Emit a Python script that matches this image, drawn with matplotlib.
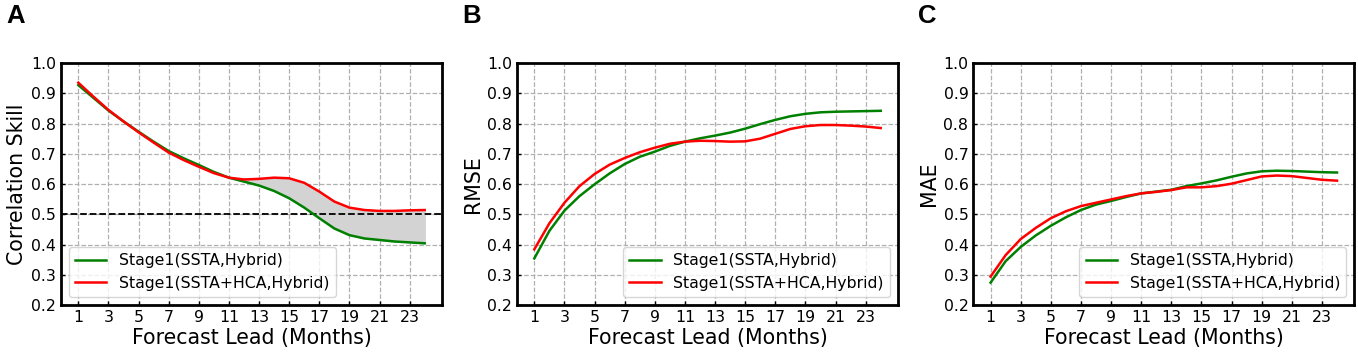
import numpy as np
import matplotlib
matplotlib.use('Agg')
from matplotlib import pyplot as plt

# forecast lead months
months = np.arange(1, 25)

# A: correlation skill
acc_ssta = [0.927, 0.885, 0.843, 0.807, 0.773, 0.740, 0.709, 0.685, 0.663, 0.640,
            0.621, 0.608, 0.595, 0.577, 0.553, 0.522, 0.487, 0.453, 0.431, 0.420,
            0.415, 0.410, 0.407, 0.404]
acc_hca = [0.935, 0.889, 0.845, 0.807, 0.771, 0.737, 0.704, 0.679, 0.657, 0.636,
           0.621, 0.615, 0.617, 0.621, 0.619, 0.604, 0.575, 0.542, 0.522, 0.514,
           0.511, 0.511, 0.513, 0.514]

# B: RMSE
rmse_ssta = [0.354, 0.445, 0.512, 0.560, 0.599, 0.635, 0.666, 0.690, 0.707, 0.726,
             0.740, 0.751, 0.760, 0.770, 0.783, 0.798, 0.812, 0.824, 0.832, 0.837,
             0.839, 0.840, 0.841, 0.842]
rmse_hca = [0.384, 0.470, 0.538, 0.593, 0.633, 0.664, 0.686, 0.705, 0.720, 0.733,
            0.740, 0.743, 0.742, 0.740, 0.741, 0.750, 0.766, 0.782, 0.791, 0.795,
            0.795, 0.793, 0.790, 0.785]

# C: MAE
mae_ssta = [0.274, 0.345, 0.392, 0.430, 0.462, 0.490, 0.514, 0.532, 0.544, 0.557,
            0.569, 0.575, 0.581, 0.593, 0.602, 0.612, 0.624, 0.635, 0.642, 0.644,
            0.643, 0.641, 0.639, 0.638]
mae_hca = [0.294, 0.365, 0.418, 0.455, 0.487, 0.510, 0.527, 0.538, 0.549, 0.560,
           0.569, 0.574, 0.580, 0.589, 0.589, 0.593, 0.601, 0.613, 0.625, 0.628,
           0.626, 0.620, 0.614, 0.611]

labels = ['Stage1(SSTA,Hybrid)', 'Stage1(SSTA+HCA,Hybrid)']
ylabels = ['Correlation Skill', 'RMSE', 'MAE']
letters = ['A', 'B', 'C']
leg_loc = ['lower left', 'lower right', 'lower right']
xticks = np.arange(1, 24, 2)
yticks = np.round(np.arange(0.2, 1.01, 0.1), 1)

plt.rcParams['font.family'] = 'DejaVu Sans'
fig = plt.figure(figsize=(13.58, 3.54), dpi=100)

lefts = [0.0449, 0.3807, 0.7167]
data = [(acc_ssta, acc_hca), (rmse_ssta, rmse_hca), (mae_ssta, mae_hca)]

for i in range(3):
    ax = fig.add_axes([lefts[i], 0.1384, 0.2806, 0.6836])
    g, r = data[i]
    ax.plot(months, g, color='green', lw=1.8, label=labels[0], zorder=3)
    ax.plot(months, r, color='red', lw=1.8, label=labels[1], zorder=3)
    if i == 0:
        sel = months >= 11
        ax.fill_between(months[sel], np.array(g)[sel], np.array(r)[sel],
                        color='lightgray', zorder=2)
        ax.axhline(0.5, color='black', ls='--', lw=1.3, zorder=2)
    ax.set_ylim(0.2, 1.0)
    ax.set_xticks(xticks)
    ax.set_yticks(yticks)
    ax.tick_params(direction='in', labelsize=11.3, length=3, width=1)
    ax.grid(True, ls='--', color='#b0b0b0', lw=0.9)
    for sp in ax.spines.values():
        sp.set_linewidth(2)
    ax.set_xlabel('Forecast Lead (Months)', fontsize=14.8, labelpad=2)
    ax.set_ylabel(ylabels[i], fontsize=14.8, labelpad=3)
    ax.legend(loc=leg_loc[i], fontsize=11.3)
    fig.text(lefts[i] - 0.0405, 0.99, letters[i], fontsize=18.5, fontweight='bold',
             family='Liberation Sans', va='top', ha='left')

fig.savefig('out.png', dpi=100)
